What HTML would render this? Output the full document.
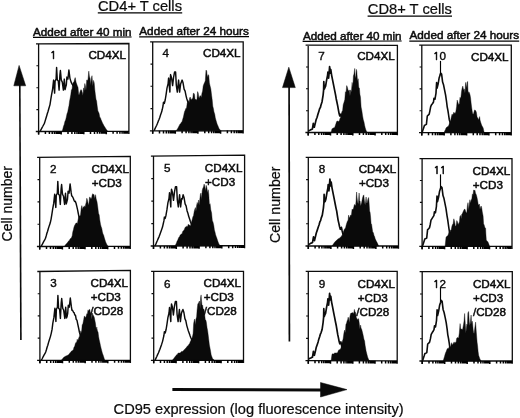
<!DOCTYPE html>
<html><head><meta charset="utf-8"><title>CD95 expression</title>
<style>html,body{margin:0;padding:0;background:#fff}svg{display:block}</style>
</head><body>
<svg width="520" height="418" viewBox="0 0 520 418">
<rect width="520" height="418" fill="#fff"/>
<g fill="none" stroke="#0c0c0c" stroke-width="1.3" stroke-linejoin="miter">
<path d="M36.0 43.8 L128.9 43.5 V133.9 M128.9 131.1 L35.8 131.5 M38.6 43.8 V134.5"/>
<path d="M36.4 65.7 H38.6M36.4 87.7 H38.6M36.4 109.6 H38.6" stroke-width="1.1"/>
<path d="M38.6 131.5 v3.0M45.4 131.5 v2.6M49.4 131.5 v2.6M52.2 131.4 v2.6M54.4 131.4 v2.6M56.2 131.4 v2.6M57.7 131.4 v2.6M59.0 131.4 v2.6M60.1 131.4 v2.6M61.2 131.4 v3.0M68.0 131.4 v2.6M71.9 131.4 v2.6M74.8 131.3 v2.6M77.0 131.3 v2.6M78.7 131.3 v2.6M80.3 131.3 v2.6M81.6 131.3 v2.6M82.7 131.3 v2.6M83.8 131.3 v3.0M90.5 131.3 v2.6M94.5 131.3 v2.6M97.3 131.2 v2.6M99.5 131.2 v2.6M101.3 131.2 v2.6M102.8 131.2 v2.6M104.1 131.2 v2.6M105.3 131.2 v2.6M106.3 131.2 v3.0M113.1 131.2 v2.6M117.1 131.2 v2.6M119.9 131.1 v2.6M122.1 131.1 v2.6M123.9 131.1 v2.6M125.4 131.1 v2.6M126.7 131.1 v2.6M127.9 131.1 v2.6" stroke-width="1.5" stroke="#000"/>
<path d="M37.1 157.3 L130.3 156.3 V249.0 M130.3 246.2 L36.9 246.5 M39.7 157.3 V249.5"/>
<path d="M37.5 179.6 H39.7M37.5 201.9 H39.7M37.5 224.2 H39.7" stroke-width="1.1"/>
<path d="M39.7 246.5 v3.0M46.5 246.5 v2.6M50.5 246.5 v2.6M53.3 246.5 v2.6M55.5 246.4 v2.6M57.3 246.4 v2.6M58.8 246.4 v2.6M60.2 246.4 v2.6M61.3 246.4 v2.6M62.4 246.4 v3.0M69.2 246.4 v2.6M73.2 246.4 v2.6M76.0 246.4 v2.6M78.2 246.4 v2.6M80.0 246.4 v2.6M81.5 246.4 v2.6M82.8 246.4 v2.6M84.0 246.4 v2.6M85.0 246.3 v3.0M91.8 246.3 v2.6M95.8 246.3 v2.6M98.6 246.3 v2.6M100.8 246.3 v2.6M102.6 246.3 v2.6M104.1 246.3 v2.6M105.5 246.3 v2.6M106.6 246.3 v2.6M107.7 246.3 v3.0M114.5 246.3 v2.6M118.5 246.2 v2.6M121.3 246.2 v2.6M123.5 246.2 v2.6M125.3 246.2 v2.6M126.8 246.2 v2.6M128.1 246.2 v2.6M129.3 246.2 v2.6" stroke-width="1.5" stroke="#000"/>
<path d="M37.3 271.5 L130.4 270.3 V362.9 M130.4 360.1 L37.1 360.3 M39.9 271.5 V363.3"/>
<path d="M37.7 293.7 H39.9M37.7 315.9 H39.9M37.7 338.1 H39.9" stroke-width="1.1"/>
<path d="M39.9 360.3 v3.0M46.7 360.3 v2.6M50.7 360.3 v2.6M53.5 360.3 v2.6M55.7 360.3 v2.6M57.5 360.3 v2.6M59.0 360.3 v2.6M60.3 360.3 v2.6M61.5 360.3 v2.6M62.5 360.2 v3.0M69.3 360.2 v2.6M73.3 360.2 v2.6M76.1 360.2 v2.6M78.3 360.2 v2.6M80.1 360.2 v2.6M81.6 360.2 v2.6M83.0 360.2 v2.6M84.1 360.2 v2.6M85.2 360.2 v3.0M92.0 360.2 v2.6M95.9 360.2 v2.6M98.8 360.2 v2.6M101.0 360.2 v2.6M102.8 360.2 v2.6M104.3 360.2 v2.6M105.6 360.2 v2.6M106.7 360.2 v2.6M107.8 360.2 v3.0M114.6 360.1 v2.6M118.6 360.1 v2.6M121.4 360.1 v2.6M123.6 360.1 v2.6M125.4 360.1 v2.6M126.9 360.1 v2.6M128.2 360.1 v2.6M129.4 360.1 v2.6" stroke-width="1.5" stroke="#000"/>
<path d="M150.1 41.9 L243.2 41.9 V133.4 M243.2 130.6 L149.9 130.8 M152.7 41.9 V133.8"/>
<path d="M150.5 64.1 H152.7M150.5 86.3 H152.7M150.5 108.6 H152.7" stroke-width="1.1"/>
<path d="M152.7 130.8 v3.0M159.5 130.8 v2.6M163.5 130.8 v2.6M166.3 130.8 v2.6M168.5 130.8 v2.6M170.3 130.8 v2.6M171.8 130.8 v2.6M173.1 130.8 v2.6M174.3 130.8 v2.6M175.3 130.8 v3.0M182.1 130.7 v2.6M186.1 130.7 v2.6M188.9 130.7 v2.6M191.1 130.7 v2.6M192.9 130.7 v2.6M194.4 130.7 v2.6M195.8 130.7 v2.6M196.9 130.7 v2.6M197.9 130.7 v3.0M204.8 130.7 v2.6M208.7 130.7 v2.6M211.6 130.7 v2.6M213.8 130.7 v2.6M215.6 130.7 v2.6M217.1 130.7 v2.6M218.4 130.7 v2.6M219.5 130.7 v2.6M220.6 130.7 v3.0M227.4 130.6 v2.6M231.4 130.6 v2.6M234.2 130.6 v2.6M236.4 130.6 v2.6M238.2 130.6 v2.6M239.7 130.6 v2.6M241.0 130.6 v2.6M242.2 130.6 v2.6" stroke-width="1.5" stroke="#000"/>
<path d="M150.9 156.2 L244.6 155.1 V248.3 M244.6 245.5 L150.7 246.0 M153.5 156.2 V249.0"/>
<path d="M151.3 178.6 H153.5M151.3 201.1 H153.5M151.3 223.6 H153.5" stroke-width="1.1"/>
<path d="M153.5 246.0 v3.0M160.4 246.0 v2.6M164.4 245.9 v2.6M167.2 245.9 v2.6M169.4 245.9 v2.6M171.2 245.9 v2.6M172.7 245.9 v2.6M174.1 245.9 v2.6M175.2 245.9 v2.6M176.3 245.9 v3.0M183.1 245.8 v2.6M187.1 245.8 v2.6M190.0 245.8 v2.6M192.2 245.8 v2.6M194.0 245.8 v2.6M195.5 245.8 v2.6M196.8 245.8 v2.6M198.0 245.8 v2.6M199.1 245.8 v3.0M205.9 245.7 v2.6M209.9 245.7 v2.6M212.8 245.7 v2.6M215.0 245.7 v2.6M216.8 245.7 v2.6M218.3 245.6 v2.6M219.6 245.6 v2.6M220.8 245.6 v2.6M221.8 245.6 v3.0M228.7 245.6 v2.6M232.7 245.6 v2.6M235.5 245.5 v2.6M237.7 245.5 v2.6M239.5 245.5 v2.6M241.1 245.5 v2.6M242.4 245.5 v2.6M243.6 245.5 v2.6" stroke-width="1.5" stroke="#000"/>
<path d="M151.1 271.3 L243.5 271.3 V363.1 M243.5 360.3 L150.9 360.3 M153.7 271.3 V363.3"/>
<path d="M151.5 293.6 H153.7M151.5 315.8 H153.7M151.5 338.1 H153.7" stroke-width="1.1"/>
<path d="M153.7 360.3 v3.0M160.5 360.3 v2.6M164.4 360.3 v2.6M167.2 360.3 v2.6M169.4 360.3 v2.6M171.2 360.3 v2.6M172.7 360.3 v2.6M174.0 360.3 v2.6M175.1 360.3 v2.6M176.1 360.3 v3.0M182.9 360.3 v2.6M186.9 360.3 v2.6M189.7 360.3 v2.6M191.8 360.3 v2.6M193.6 360.3 v2.6M195.1 360.3 v2.6M196.4 360.3 v2.6M197.6 360.3 v2.6M198.6 360.3 v3.0M205.4 360.3 v2.6M209.3 360.3 v2.6M212.1 360.3 v2.6M214.3 360.3 v2.6M216.1 360.3 v2.6M217.6 360.3 v2.6M218.9 360.3 v2.6M220.0 360.3 v2.6M221.1 360.3 v3.0M227.8 360.3 v2.6M231.8 360.3 v2.6M234.6 360.3 v2.6M236.7 360.3 v2.6M238.5 360.3 v2.6M240.0 360.3 v2.6M241.3 360.3 v2.6M242.5 360.3 v2.6" stroke-width="1.5" stroke="#000"/>
<path d="M305.6 45.1 L397.4 45.3 V135.3 M397.4 132.5 L305.4 132.5 M308.2 45.1 V135.5"/>
<path d="M306.0 67.0 H308.2M306.0 88.8 H308.2M306.0 110.7 H308.2" stroke-width="1.1"/>
<path d="M308.2 132.5 v3.0M314.9 132.5 v2.6M318.8 132.5 v2.6M321.6 132.5 v2.6M323.8 132.5 v2.6M325.6 132.5 v2.6M327.0 132.5 v2.6M328.3 132.5 v2.6M329.5 132.5 v2.6M330.5 132.5 v3.0M337.2 132.5 v2.6M341.1 132.5 v2.6M343.9 132.5 v2.6M346.1 132.5 v2.6M347.9 132.5 v2.6M349.3 132.5 v2.6M350.6 132.5 v2.6M351.8 132.5 v2.6M352.8 132.5 v3.0M359.5 132.5 v2.6M363.4 132.5 v2.6M366.2 132.5 v2.6M368.4 132.5 v2.6M370.2 132.5 v2.6M371.6 132.5 v2.6M372.9 132.5 v2.6M374.1 132.5 v2.6M375.1 132.5 v3.0M381.8 132.5 v2.6M385.7 132.5 v2.6M388.5 132.5 v2.6M390.7 132.5 v2.6M392.5 132.5 v2.6M393.9 132.5 v2.6M395.2 132.5 v2.6M396.4 132.5 v2.6" stroke-width="1.5" stroke="#000"/>
<path d="M305.7 157.4 L398.5 157.4 V248.8 M398.5 246.0 L305.5 246.0 M308.3 157.4 V249.0"/>
<path d="M306.1 179.6 H308.3M306.1 201.7 H308.3M306.1 223.8 H308.3" stroke-width="1.1"/>
<path d="M308.3 246.0 v3.0M315.1 246.0 v2.6M319.1 246.0 v2.6M321.9 246.0 v2.6M324.1 246.0 v2.6M325.8 246.0 v2.6M327.4 246.0 v2.6M328.7 246.0 v2.6M329.8 246.0 v2.6M330.9 246.0 v3.0M337.6 246.0 v2.6M341.6 246.0 v2.6M344.4 246.0 v2.6M346.6 246.0 v2.6M348.4 246.0 v2.6M349.9 246.0 v2.6M351.2 246.0 v2.6M352.4 246.0 v2.6M353.4 246.0 v3.0M360.2 246.0 v2.6M364.2 246.0 v2.6M367.0 246.0 v2.6M369.2 246.0 v2.6M370.9 246.0 v2.6M372.5 246.0 v2.6M373.8 246.0 v2.6M374.9 246.0 v2.6M375.9 246.0 v3.0M382.7 246.0 v2.6M386.7 246.0 v2.6M389.5 246.0 v2.6M391.7 246.0 v2.6M393.5 246.0 v2.6M395.0 246.0 v2.6M396.3 246.0 v2.6M397.5 246.0 v2.6" stroke-width="1.5" stroke="#000"/>
<path d="M305.7 271.4 L397.2 271.4 V363.7 M397.2 360.9 L305.5 360.7 M308.3 271.4 V363.7"/>
<path d="M306.1 293.7 H308.3M306.1 316.0 H308.3M306.1 338.4 H308.3" stroke-width="1.1"/>
<path d="M308.3 360.7 v3.0M315.0 360.7 v2.6M318.9 360.7 v2.6M321.7 360.7 v2.6M323.8 360.7 v2.6M325.6 360.7 v2.6M327.1 360.7 v2.6M328.4 360.7 v2.6M329.5 360.7 v2.6M330.5 360.8 v3.0M337.2 360.8 v2.6M341.1 360.8 v2.6M343.9 360.8 v2.6M346.1 360.8 v2.6M347.8 360.8 v2.6M349.3 360.8 v2.6M350.6 360.8 v2.6M351.7 360.8 v2.6M352.8 360.8 v3.0M359.4 360.8 v2.6M363.4 360.8 v2.6M366.1 360.8 v2.6M368.3 360.8 v2.6M370.0 360.8 v2.6M371.5 360.8 v2.6M372.8 360.8 v2.6M374.0 360.8 v2.6M375.0 360.8 v3.0M381.7 360.9 v2.6M385.6 360.9 v2.6M388.4 360.9 v2.6M390.5 360.9 v2.6M392.3 360.9 v2.6M393.8 360.9 v2.6M395.0 360.9 v2.6M396.2 360.9 v2.6" stroke-width="1.5" stroke="#000"/>
<path d="M419.2 45.2 L511.3 45.2 V135.4 M511.3 132.6 L419.0 132.6 M421.8 45.2 V135.6"/>
<path d="M419.6 67.0 H421.8M419.6 88.9 H421.8M419.6 110.8 H421.8" stroke-width="1.1"/>
<path d="M421.8 132.6 v3.0M428.5 132.6 v2.6M432.5 132.6 v2.6M435.3 132.6 v2.6M437.4 132.6 v2.6M439.2 132.6 v2.6M440.7 132.6 v2.6M442.0 132.6 v2.6M443.2 132.6 v2.6M444.2 132.6 v3.0M450.9 132.6 v2.6M454.9 132.6 v2.6M457.6 132.6 v2.6M459.8 132.6 v2.6M461.6 132.6 v2.6M463.1 132.6 v2.6M464.4 132.6 v2.6M465.5 132.6 v2.6M466.6 132.6 v3.0M473.3 132.6 v2.6M477.2 132.6 v2.6M480.0 132.6 v2.6M482.2 132.6 v2.6M484.0 132.6 v2.6M485.5 132.6 v2.6M486.8 132.6 v2.6M487.9 132.6 v2.6M488.9 132.6 v3.0M495.7 132.6 v2.6M499.6 132.6 v2.6M502.4 132.6 v2.6M504.6 132.6 v2.6M506.3 132.6 v2.6M507.8 132.6 v2.6M509.1 132.6 v2.6M510.3 132.6 v2.6" stroke-width="1.5" stroke="#000"/>
<path d="M419.5 158.6 L512.0 158.6 V249.1 M512.0 246.3 L419.3 246.3 M422.1 158.6 V249.3"/>
<path d="M419.9 180.5 H422.1M419.9 202.4 H422.1M419.9 224.4 H422.1" stroke-width="1.1"/>
<path d="M422.1 246.3 v3.0M428.9 246.3 v2.6M432.8 246.3 v2.6M435.6 246.3 v2.6M437.8 246.3 v2.6M439.6 246.3 v2.6M441.1 246.3 v2.6M442.4 246.3 v2.6M443.5 246.3 v2.6M444.6 246.3 v3.0M451.3 246.3 v2.6M455.3 246.3 v2.6M458.1 246.3 v2.6M460.3 246.3 v2.6M462.1 246.3 v2.6M463.6 246.3 v2.6M464.9 246.3 v2.6M466.0 246.3 v2.6M467.1 246.3 v3.0M473.8 246.3 v2.6M477.8 246.3 v2.6M480.6 246.3 v2.6M482.8 246.3 v2.6M484.5 246.3 v2.6M486.0 246.3 v2.6M487.3 246.3 v2.6M488.5 246.3 v2.6M489.5 246.3 v3.0M496.3 246.3 v2.6M500.2 246.3 v2.6M503.1 246.3 v2.6M505.2 246.3 v2.6M507.0 246.3 v2.6M508.5 246.3 v2.6M509.8 246.3 v2.6M511.0 246.3 v2.6" stroke-width="1.5" stroke="#000"/>
<path d="M419.6 271.7 L512.3 271.7 V363.8 M512.3 361.0 L419.4 361.0 M422.2 271.7 V364.0"/>
<path d="M420.0 294.0 H422.2M420.0 316.4 H422.2M420.0 338.7 H422.2" stroke-width="1.1"/>
<path d="M422.2 361.0 v3.0M429.0 361.0 v2.6M432.9 361.0 v2.6M435.8 361.0 v2.6M437.9 361.0 v2.6M439.7 361.0 v2.6M441.2 361.0 v2.6M442.5 361.0 v2.6M443.7 361.0 v2.6M444.7 361.0 v3.0M451.5 361.0 v2.6M455.5 361.0 v2.6M458.3 361.0 v2.6M460.5 361.0 v2.6M462.3 361.0 v2.6M463.8 361.0 v2.6M465.1 361.0 v2.6M466.2 361.0 v2.6M467.2 361.0 v3.0M474.0 361.0 v2.6M478.0 361.0 v2.6M480.8 361.0 v2.6M483.0 361.0 v2.6M484.8 361.0 v2.6M486.3 361.0 v2.6M487.6 361.0 v2.6M488.7 361.0 v2.6M489.8 361.0 v3.0M496.6 361.0 v2.6M500.5 361.0 v2.6M503.3 361.0 v2.6M505.5 361.0 v2.6M507.3 361.0 v2.6M508.8 361.0 v2.6M510.1 361.0 v2.6M511.3 361.0 v2.6" stroke-width="1.5" stroke="#000"/>
</g>
<g stroke="#0c0c0c" stroke-width="1.25" stroke-linejoin="round" fill="none">
<polyline stroke-width="1.45" points="40.1,131.3 41.0,129.7 41.8,128.1 42.7,126.5 43.5,125.0 44.4,123.3 45.1,121.1 45.8,118.7 46.5,116.6 47.2,114.0 48.1,111.2 49.0,108.0 50.0,104.6 50.8,99.4 51.5,95.1 52.6,89.1 53.6,80.1 54.6,93.1 55.1,81.1 56.1,79.1 56.6,67.5 57.3,80.1 58.3,81.1 59.1,90.1 59.9,75.1 60.4,70.5 61.3,80.1 62.3,82.1 63.4,90.1 64.3,79.1 65.1,89.6 65.7,87.1 66.3,85.1 66.9,77.1 67.9,79.1 68.9,70.0 69.9,78.1 71.1,82.1 72.1,84.1 73.1,85.6 74.1,87.1 74.8,89.4 75.6,92.1 76.3,95.7 77.1,99.1 78.1,104.0 78.8,106.6 79.5,108.0 80.5,110.3 81.5,112.0 82.2,113.9 83.0,116.0"/>
<polyline stroke-width="1.45" points="41.2,246.3 42.1,244.7 42.9,243.1 43.8,241.4 44.7,239.9 45.5,238.2 46.2,235.9 46.9,233.3 47.6,231.3 48.3,228.7 49.2,225.9 50.2,223.1 51.1,219.1 51.9,214.2 52.6,209.5 53.7,203.4 54.7,194.2 55.8,207.4 56.3,195.2 57.3,193.2 57.8,181.4 58.5,194.2 59.5,195.2 60.3,204.4 61.1,189.1 61.6,184.5 62.5,194.2 63.5,196.3 64.6,204.4 65.5,193.2 66.3,203.9 66.9,201.5 67.5,199.3 68.1,191.2 69.1,193.2 70.1,183.9 71.1,192.2 71.7,195.9 72.3,196.3 73.3,198.3 74.0,200.2 74.6,201.5 75.3,201.3 76.1,203.5 76.8,206.4 77.6,209.8 78.3,213.5 79.3,218.5 80.0,220.4 80.7,222.6 81.4,223.8 82.1,225.1 82.7,226.7 83.5,229.0 84.2,230.7"/>
<polyline stroke-width="1.45" points="41.4,360.1 42.3,358.5 43.1,356.8 44.0,355.2 44.9,353.7 45.7,352.0 46.4,349.8 47.1,347.3 47.8,345.2 48.5,342.6 49.4,339.7 50.4,336.6 51.3,333.1 52.1,329.2 52.8,323.4 53.9,317.4 54.9,308.3 55.9,321.4 56.4,309.3 57.4,307.2 57.9,295.5 58.6,308.3 59.6,309.3 60.4,318.4 61.2,303.2 61.7,298.5 62.7,308.3 63.7,310.3 64.8,318.4 65.7,307.2 66.5,317.9 67.1,316.4 67.7,313.3 68.3,305.2 69.3,307.2 70.3,298.0 71.3,306.2 71.9,310.2 72.5,310.3 73.5,312.3 74.1,312.6 74.8,315.1 75.5,315.3 76.2,319.3 77.0,320.4 77.7,323.9 78.5,327.5 79.5,332.5 80.2,334.7 80.9,336.5 81.6,338.2 82.2,339.1 82.9,340.6 83.6,342.8 84.4,344.6"/>
<polyline stroke-width="1.45" points="154.1,130.8 154.9,128.9 155.8,127.0 156.7,125.2 157.5,123.3 158.2,121.4 159.0,119.5 159.7,117.7 160.6,114.8 161.6,112.1 162.3,109.3 163.0,106.0 163.5,102.2 164.3,103.5 165.2,100.0 166.0,95.1 167.0,88.1 168.1,83.6 168.6,78.1 169.2,85.2 169.9,92.1 170.1,82.1 170.6,74.6 171.6,78.1 172.6,85.6 173.6,77.1 174.6,72.0 175.6,72.0 176.3,85.1 177.3,92.1 177.9,86.4 178.6,80.1 179.6,92.1 180.6,84.1 181.3,82.2 182.1,80.1 183.1,83.1 184.1,89.1 185.1,91.1 186.1,96.1 186.8,98.8 187.6,101.2 188.6,104.0 189.3,106.3 190.0,108.0 190.8,110.5 191.5,112.0 192.2,114.0 193.0,116.0"/>
<polyline stroke-width="1.45" points="154.9,246.0 155.8,244.1 156.6,242.2 157.5,240.3 158.3,238.4 159.1,236.6 159.8,234.7 160.5,232.8 161.5,230.0 162.5,227.1 163.2,224.0 163.9,220.9 164.4,217.1 165.2,218.4 166.0,215.2 166.9,209.9 167.9,202.9 169.0,198.3 169.5,192.8 170.2,200.1 170.8,206.9 171.0,196.8 171.5,189.2 172.5,192.8 173.5,200.3 174.5,191.8 175.5,186.6 176.6,186.6 177.3,199.8 178.3,206.9 178.9,200.9 179.6,194.8 180.6,206.9 181.6,198.8 182.3,198.9 183.1,194.8 184.1,197.8 185.1,203.9 186.1,205.9 187.1,210.9 187.9,213.2 188.6,216.1 189.6,218.9 190.3,221.2 191.0,223.0 191.8,225.4 192.6,227.0 193.3,229.4 194.1,231.1"/>
<polyline stroke-width="1.45" points="155.1,360.3 155.9,358.4 156.8,356.5 157.6,354.6 158.5,352.8 159.2,350.9 159.9,349.2 160.6,347.2 161.6,344.4 162.5,341.6 163.2,338.7 163.9,335.5 164.4,331.7 165.2,333.0 166.1,329.5 166.9,324.6 167.9,317.6 169.0,313.0 169.5,307.5 170.1,314.2 170.8,321.6 171.0,311.5 171.5,304.0 172.5,307.5 173.4,315.0 174.4,306.5 175.4,301.4 176.4,301.4 177.1,314.5 178.1,321.6 178.8,314.8 179.4,309.5 180.4,321.6 181.4,313.5 182.1,311.2 182.9,309.5 183.9,312.5 184.9,318.6 185.8,320.6 186.8,325.6 187.6,328.4 188.3,330.7 189.3,333.5 190.0,335.6 190.7,337.5 191.5,339.2 192.2,341.5 192.9,343.4 193.7,345.5"/>
<polyline stroke-width="1.70" points="308.2,131.0 309.0,130.6 309.9,130.2 310.7,129.8 311.6,129.4 312.4,129.0 313.3,123.4 314.3,127.2 315.2,123.6 316.1,119.7 317.1,117.2 318.0,114.1 318.9,111.2 319.7,108.5 320.4,107.5 321.0,105.0 322.0,102.0 323.1,95.1 323.6,90.1 323.8,81.6 324.3,89.1 325.0,87.5 325.6,86.1 326.6,80.1 327.6,75.1 327.9,72.0 328.6,78.1 329.1,73.1 329.6,66.5 330.4,73.1 330.8,69.5 331.6,75.1 332.6,80.1 333.6,85.1 334.6,90.1 335.6,95.1 336.2,98.7 336.9,102.0 337.7,105.9 338.5,110.4 339.1,113.6 339.8,116.0 340.9,114.1 341.5,116.8 342.2,119.7 342.9,122.0 343.5,124.0 344.2,126.0 345.0,128.0"/>
<polyline stroke-width="1.70" points="308.3,244.5 309.1,244.1 310.0,243.7 310.8,243.3 311.7,242.9 312.5,242.5 313.5,236.8 314.5,240.6 315.4,236.9 316.3,233.0 317.2,230.4 318.2,227.3 319.1,224.8 319.9,221.7 320.6,220.6 321.2,218.1 322.3,215.1 323.4,208.1 323.9,203.0 324.1,194.4 324.6,202.0 325.2,201.3 325.9,199.0 326.9,192.9 327.9,187.8 328.2,184.7 328.9,190.9 329.4,185.8 329.9,179.1 330.7,185.8 331.2,182.1 332.0,187.8 333.0,192.9 334.0,197.9 335.0,203.0 336.0,208.1 336.7,211.1 337.3,215.1 338.1,220.1 338.9,223.6 339.6,226.7 340.3,229.3 341.4,227.3 342.0,230.2 342.7,233.0 343.3,235.2 344.0,237.4 344.8,239.5 345.5,241.4"/>
<polyline stroke-width="1.70" points="308.3,359.2 309.1,358.8 310.0,358.3 310.8,358.0 311.6,357.5 312.5,357.1 313.4,351.4 314.4,355.3 315.3,351.6 316.2,347.6 317.1,344.9 318.1,341.9 318.9,338.9 319.8,336.2 320.4,334.1 321.1,332.6 322.1,329.5 323.1,322.5 323.6,317.4 323.8,308.7 324.3,316.4 325.0,314.5 325.6,313.3 326.6,307.2 327.6,302.1 327.9,298.9 328.6,305.1 329.1,300.0 329.6,293.3 330.4,300.0 330.8,296.3 331.6,302.1 332.6,307.2 333.6,312.3 334.6,317.4 335.6,322.5 336.3,325.8 336.9,329.5 337.7,334.4 338.5,338.1 339.1,341.3 339.8,343.8 340.9,341.9 341.5,345.1 342.2,347.6 342.8,349.7 343.5,352.0 344.2,354.0 345.0,356.1"/>
<polyline stroke-width="1.60" points="422.1,132.6 422.9,130.1 423.7,127.7 424.5,125.3 425.4,124.9 426.4,124.4 427.3,116.0 428.2,115.2 429.2,114.1 429.9,110.8 430.7,106.6 431.6,104.7 432.6,103.5 433.5,102.0 434.0,98.2 435.0,99.2 436.0,93.1 436.6,82.6 437.1,88.1 438.1,84.1 439.1,78.1 440.1,75.1 440.6,73.1 441.6,74.1 442.1,78.1 442.6,82.1 443.6,85.1 444.6,90.1 445.6,95.1 446.6,102.0 447.2,106.8 447.9,110.4 448.6,115.0 449.3,119.7 450.0,122.0 450.6,124.4 451.6,126.2 452.3,127.7 453.0,129.0"/>
<path stroke-width="1.15" stroke="#000" d="M440.50 74.6 V60.9"/>
<polyline stroke-width="1.60" points="422.4,246.3 423.2,243.9 424.0,241.4 424.8,239.0 425.8,238.6 426.7,238.1 427.6,229.6 428.6,228.8 429.5,227.7 430.3,224.2 431.0,220.2 432.0,218.6 432.9,217.1 433.9,215.6 434.4,211.8 435.4,212.8 436.4,206.7 437.0,196.1 437.5,201.6 438.5,197.6 439.5,191.6 440.5,188.6 441.0,186.6 442.0,187.6 442.5,191.6 443.0,195.6 444.0,198.6 445.0,203.7 446.0,208.7 447.0,215.6 447.7,219.7 448.3,224.0 449.0,228.8 449.7,233.4 450.4,235.7 451.0,238.1 452.0,239.9 452.7,241.4 453.4,242.7"/>
<path stroke-width="1.15" stroke="#000" d="M440.50 188.1 V174.4"/>
<polyline stroke-width="1.60" points="422.5,361.0 423.3,358.5 424.1,356.1 424.9,353.5 425.9,353.2 426.8,352.6 427.7,344.0 428.7,343.1 429.6,342.1 430.4,338.9 431.2,334.4 432.1,332.8 433.1,331.3 434.0,329.7 434.5,325.9 435.5,326.9 436.5,320.6 437.1,309.9 437.6,315.5 438.6,311.4 439.6,305.3 440.6,302.2 441.1,300.2 442.1,301.2 442.6,305.3 443.1,309.4 444.1,312.5 445.2,317.6 446.2,322.7 447.2,329.7 447.8,334.8 448.5,338.3 449.2,342.9 449.9,347.8 450.5,350.2 451.2,352.6 452.2,354.5 452.9,355.9 453.6,357.3"/>
<path stroke-width="1.15" stroke="#000" d="M440.50 301.7 V287.7"/>
</g>
<g fill="#0a0a0a" stroke="#0a0a0a" stroke-width="0.4">
<polygon points="62.1,131.5 62.8,129.1 63.5,126.3 64.2,124.5 64.9,121.4 65.6,120.1 66.3,117.2 67.0,113.7 67.7,112.1 68.3,108.7 69.0,105.4 69.6,100.9 70.2,97.9 70.8,94.6 71.4,89.7 72.0,89.4 72.7,83.8 73.3,82.3 73.9,82.3 74.6,79.3 75.2,77.6 76.1,82.3 76.8,84.3 77.4,86.0 78.0,87.2 78.7,94.4 79.3,94.4 80.0,91.8 80.8,89.7 81.5,89.9 82.3,92.5 82.9,95.5 83.6,87.9 84.2,90.8 84.8,83.5 85.4,86.0 86.0,90.6 86.7,80.0 87.3,80.4 88.0,79.3 88.8,71.1 89.4,76.2 90.1,78.5 90.7,84.7 91.4,78.3 92.0,75.7 92.8,86.0 93.5,80.4 94.2,82.8 94.8,89.7 95.4,94.8 96.0,99.3 96.6,100.9 97.2,106.1 97.9,110.9 98.5,112.1 99.1,113.5 99.8,117.3 100.4,117.7 101.1,119.7 101.8,121.3 102.5,123.0 103.2,124.2 103.9,125.6 104.6,126.7 105.3,127.8 106.0,128.9 106.6,129.8 107.2,130.6 107.8,131.5"/>
<polygon points="64.1,246.5 64.7,245.7 65.4,245.0 66.0,244.2 66.6,243.6 67.3,242.7 67.9,242.0 68.5,241.1 69.1,240.8 69.8,239.5 70.4,238.6 71.0,238.5 71.6,237.3 72.2,235.7 72.8,231.8 73.4,229.8 74.0,227.1 74.7,225.3 75.3,224.2 76.0,223.1 76.7,223.0 77.4,223.5 78.1,219.6 78.7,217.4 79.3,216.1 79.9,216.1 80.5,214.9 81.2,208.4 81.8,205.6 82.4,209.8 83.1,206.7 83.7,207.5 84.3,205.8 85.0,207.4 85.6,204.6 86.2,202.4 86.8,198.2 87.4,200.0 88.1,203.0 88.8,205.3 89.5,196.9 90.2,199.0 90.8,197.5 91.5,198.9 92.1,195.3 92.7,193.7 93.4,194.6 94.0,194.4 94.7,198.5 95.5,194.7 96.2,199.0 97.0,201.8 97.7,206.5 98.5,213.2 99.2,214.9 99.8,220.0 100.5,224.2 101.1,226.5 101.8,228.4 102.4,231.7 103.0,234.1 103.6,235.0 104.2,237.3 104.8,239.3 105.5,241.4 106.1,242.9 106.7,244.2 107.4,245.3 108.0,246.5"/>
<polygon points="61.3,360.3 62.0,359.4 62.7,358.6 63.4,357.7 64.1,356.9 64.7,356.8 65.4,356.3 66.0,356.1 66.6,355.7 67.3,355.5 67.9,355.0 68.6,354.7 69.2,354.0 69.9,352.9 70.6,352.2 71.3,351.3 72.0,350.7 72.7,350.5 73.4,349.4 74.0,347.2 74.7,346.3 75.3,343.8 75.9,342.4 76.6,342.6 77.2,339.2 77.9,340.8 78.7,338.1 79.4,336.4 80.2,334.3 80.9,330.8 81.5,333.0 82.2,324.6 82.8,324.2 83.7,319.6 84.3,316.2 85.0,316.6 85.6,317.7 86.2,316.3 86.8,313.7 87.4,314.0 88.0,309.9 88.7,311.3 89.3,309.3 89.9,309.7 90.6,314.3 91.2,312.1 91.8,319.4 92.4,313.0 93.0,314.9 93.6,315.8 94.3,317.4 94.9,320.5 95.5,323.6 96.2,329.8 96.8,327.0 97.4,331.1 98.0,331.7 98.6,336.4 99.2,339.8 99.9,342.8 100.5,345.7 101.1,348.3 101.8,350.9 102.4,353.2 103.0,354.8 103.6,356.6 104.2,358.4 104.8,360.3"/>
<polygon points="176.1,130.8 176.7,129.9 177.4,129.0 178.0,128.0 178.6,126.8 179.3,125.4 179.9,124.2 180.6,123.7 181.4,122.3 182.1,121.4 182.7,119.2 183.4,117.1 184.0,114.0 184.6,111.4 185.2,110.2 185.8,108.4 186.5,108.3 187.2,103.3 187.9,101.8 188.5,100.6 189.0,103.2 189.6,98.1 190.2,97.1 190.8,98.9 191.4,100.0 192.0,98.5 192.7,99.0 193.3,93.4 193.9,93.2 194.5,94.6 195.1,100.1 195.7,99.0 196.3,100.2 197.0,98.9 197.6,91.6 198.2,93.1 198.8,97.2 199.4,98.1 200.0,95.5 200.7,96.1 201.3,97.6 201.9,93.4 202.6,91.1 203.2,86.0 203.9,84.1 204.7,82.3 205.3,80.7 206.0,70.1 206.7,70.9 207.3,77.6 208.1,74.6 208.8,75.7 209.4,82.9 210.1,86.0 210.8,88.8 211.6,95.3 212.2,99.8 212.8,106.2 213.4,108.4 214.0,112.0 214.7,113.9 215.3,117.7 215.9,119.9 216.6,122.3 217.2,124.2 217.8,125.6 218.4,127.0 219.0,128.5 219.6,129.3 220.3,130.0 220.9,130.8"/>
<polygon points="175.2,246.0 175.8,244.3 176.5,242.9 177.1,241.0 177.7,240.2 178.3,238.6 178.9,237.3 179.5,236.7 180.2,235.0 180.8,234.5 181.4,234.0 182.0,233.9 182.6,231.7 183.2,230.8 183.9,230.5 184.5,228.9 185.1,227.6 185.8,226.8 186.4,227.0 187.0,225.8 187.6,227.3 188.2,224.2 188.8,224.8 189.5,225.1 190.1,226.1 190.8,225.1 191.4,222.4 192.2,219.6 192.9,216.8 193.5,215.8 194.2,211.5 194.8,209.3 195.4,207.6 196.0,211.5 196.6,205.6 197.2,202.5 197.9,205.1 198.5,200.0 199.1,205.3 199.8,199.3 200.4,194.4 201.0,193.0 201.6,199.7 202.2,190.7 202.8,188.3 203.5,187.0 204.1,184.1 204.8,186.2 205.6,190.7 206.2,185.3 206.9,187.9 207.5,192.8 208.2,189.7 208.8,194.4 209.4,204.5 210.1,203.7 210.8,209.8 211.6,213.0 212.3,220.4 213.1,222.4 213.8,225.6 214.4,229.9 215.0,232.1 215.6,234.7 216.2,236.4 216.8,238.0 217.5,240.2 218.1,242.0 218.7,243.4 219.4,244.7 220.0,246.0"/>
<polygon points="172.4,360.3 173.1,359.3 173.8,358.4 174.5,357.4 175.2,356.5 175.9,355.8 176.6,354.8 177.3,354.4 178.0,353.2 178.7,353.0 179.4,353.0 180.1,353.1 180.8,352.2 181.5,351.4 182.2,351.4 182.9,351.3 183.6,350.4 184.3,349.5 185.0,349.4 185.7,348.0 186.4,347.6 187.0,346.4 187.6,346.1 188.2,345.5 188.8,344.5 189.5,343.8 190.1,342.2 190.6,341.1 191.2,340.0 191.9,338.6 192.6,336.0 193.1,333.5 193.6,324.1 194.1,320.8 194.6,319.1 195.3,324.7 195.9,319.3 196.6,317.1 197.1,310.1 197.8,303.9 198.6,303.0 199.1,301.5 199.6,301.0 200.1,308.7 200.6,297.5 201.1,294.9 201.6,301.5 202.1,306.3 202.6,305.0 203.1,308.8 203.6,309.1 204.1,309.6 204.6,314.1 205.3,320.1 205.8,320.1 206.3,322.0 207.1,328.1 207.6,330.4 208.1,334.2 208.8,340.0 209.4,345.1 209.9,347.6 210.6,351.3 211.2,355.0 211.8,356.6 212.5,358.4 213.1,359.1 213.8,359.7 214.4,360.3"/>
<polygon points="331.1,132.5 332.0,128.7 332.7,128.5 333.4,127.9 334.1,127.7 334.8,127.2 335.4,125.3 336.0,123.6 336.6,121.6 337.3,121.1 338.0,121.2 338.7,121.4 339.4,120.6 340.0,118.4 340.7,117.4 341.3,114.1 341.9,111.7 342.6,110.6 343.2,104.8 344.1,102.0 344.8,99.6 345.4,91.7 346.0,92.8 346.7,85.6 347.3,87.0 348.1,90.2 348.8,90.8 349.4,89.9 350.0,95.9 350.6,89.9 351.4,92.1 352.1,82.4 352.8,87.2 353.4,75.9 354.0,74.0 354.7,68.4 355.2,78.3 355.8,75.9 356.3,69.3 356.8,71.2 357.5,81.4 358.1,78.7 358.8,87.4 359.4,88.0 359.9,94.3 360.5,97.3 361.1,107.1 361.8,110.4 362.6,115.9 363.3,119.7 364.0,122.1 364.6,125.3 365.2,127.7 365.9,130.0 366.5,131.2 367.1,132.5"/>
<polygon points="332.0,246.0 332.7,245.0 333.4,244.0 334.1,242.9 334.8,242.0 335.5,241.3 336.2,240.6 336.9,240.3 337.6,239.2 338.3,238.7 339.0,238.5 339.7,238.0 340.4,237.3 341.0,236.9 341.6,235.7 342.2,235.4 342.8,234.2 343.5,231.6 344.1,229.8 344.8,228.8 345.5,228.0 346.2,225.1 346.8,223.0 347.5,221.1 348.1,220.2 348.6,215.1 349.3,217.9 349.9,217.0 350.6,215.1 351.4,215.2 352.1,209.1 352.9,210.0 353.6,208.1 354.4,204.5 355.1,205.1 355.6,206.1 356.1,200.5 356.6,192.0 357.1,198.0 357.6,202.1 358.3,204.1 359.1,193.0 359.6,200.9 360.1,201.1 360.6,206.0 361.1,204.6 361.7,202.2 362.3,199.1 362.8,197.0 363.3,195.5 363.8,194.9 364.3,200.1 365.1,205.1 365.6,201.5 366.1,197.0 366.6,203.1 367.1,203.1 367.6,200.4 368.1,198.6 368.6,197.5 369.1,203.1 369.6,211.1 370.1,212.5 370.6,217.1 371.1,223.8 371.6,224.2 372.1,228.0 372.7,232.0 373.4,232.8 374.0,235.4 374.6,236.6 375.2,238.8 375.8,240.1 376.4,241.3 377.1,242.5 377.7,243.8 378.6,246.0"/>
<polygon points="331.1,360.7 332.0,354.2 332.7,353.8 333.4,354.1 334.1,353.4 334.8,352.9 335.5,353.0 336.2,352.8 336.9,353.2 337.6,352.4 338.4,350.6 339.1,349.5 339.7,349.9 340.4,349.1 341.0,348.0 341.5,345.2 342.0,343.0 342.6,340.5 343.1,339.1 343.9,333.2 344.6,330.1 345.3,332.8 345.9,324.5 346.6,323.1 347.1,320.8 347.6,320.1 348.1,317.2 348.6,318.0 349.3,322.6 349.9,316.5 350.6,313.5 351.4,313.1 352.1,313.0 352.9,312.5 353.6,314.0 354.4,309.4 355.1,312.5 355.6,312.3 356.1,317.0 356.6,318.0 357.1,319.0 357.6,319.9 358.1,318.6 358.6,319.0 359.1,322.1 359.9,329.0 360.6,325.1 361.1,328.3 361.6,329.1 362.4,332.1 363.1,335.1 363.9,339.1 364.6,341.1 365.1,345.2 365.6,348.0 366.1,351.1 366.6,353.0 367.1,355.0 367.6,357.0 368.1,358.2 368.6,359.5 369.1,360.1 369.6,360.7"/>
<polygon points="444.1,132.6 444.7,131.1 445.4,129.7 446.0,128.1 446.7,127.3 447.4,126.8 448.1,126.4 448.8,125.3 449.4,123.6 450.0,122.0 450.6,120.6 451.4,116.8 452.1,114.1 452.7,115.4 453.2,114.0 453.8,112.2 454.6,113.2 455.3,113.2 455.9,111.2 456.6,106.6 457.2,100.1 457.9,102.2 458.7,104.8 459.4,103.8 460.0,97.3 460.8,98.4 461.5,91.7 462.1,88.3 462.8,86.1 463.6,89.9 464.3,88.9 465.0,93.2 465.6,82.4 466.5,88.0 467.1,82.0 467.6,81.5 468.1,93.6 468.7,91.7 469.3,92.5 470.0,94.8 470.6,98.0 471.1,103.0 471.6,107.1 472.1,110.5 472.6,113.6 473.4,114.3 474.1,111.6 474.6,109.9 475.1,110.1 475.7,110.8 476.3,112.1 477.1,117.1 477.9,118.3 478.6,120.1 479.1,118.0 479.6,116.6 480.1,120.2 480.6,122.1 481.1,123.5 481.6,125.1 482.4,126.6 483.2,128.1 483.7,130.4 484.2,132.6"/>
<polygon points="445.1,246.3 446.0,237.4 446.6,236.5 447.3,236.1 447.9,235.6 448.6,233.5 449.3,231.8 449.9,232.6 450.6,230.1 451.2,230.0 451.9,226.3 452.5,224.4 453.1,224.1 453.8,218.8 454.6,221.4 455.3,226.2 456.1,225.4 456.8,220.6 457.5,222.1 458.1,224.4 458.7,223.5 459.4,222.0 460.0,216.0 460.6,215.5 461.2,218.8 461.8,214.1 462.4,213.5 463.1,211.8 463.7,210.4 464.3,209.3 465.0,209.3 465.6,211.3 466.2,212.7 466.8,212.4 467.4,205.7 468.0,202.6 468.7,210.3 469.3,203.9 469.9,199.7 470.6,202.9 471.2,200.1 471.8,198.9 472.4,193.9 473.0,195.5 473.6,190.1 474.3,190.5 474.9,189.9 475.5,193.2 476.2,194.5 476.9,197.0 477.7,201.0 478.3,205.1 478.8,204.8 479.4,204.0 480.0,209.4 480.5,207.4 481.1,206.0 481.7,207.8 482.3,212.0 483.1,216.0 483.6,224.1 484.1,224.7 484.6,226.6 485.1,228.2 485.6,228.1 485.9,234.1 486.3,240.1 487.1,241.2 487.9,241.7 488.4,243.1 488.9,244.2 489.5,246.3"/>
<polygon points="443.2,361.0 443.8,358.8 444.5,356.5 445.1,354.2 445.7,352.6 446.3,351.3 446.9,349.6 447.5,348.4 448.2,348.8 448.8,347.5 449.5,348.1 450.1,347.2 450.8,346.0 451.5,342.7 452.2,344.4 452.8,344.5 453.5,342.9 454.2,341.9 454.8,343.6 455.5,342.2 456.1,342.3 456.6,338.6 457.3,337.5 457.9,337.8 458.6,338.1 459.3,333.1 460.1,323.6 460.6,328.5 461.1,329.1 461.9,329.2 462.6,329.6 463.1,326.8 463.6,324.1 464.1,320.7 464.6,313.5 465.3,324.1 465.9,333.1 466.4,327.5 466.9,324.1 467.4,325.1 467.9,313.0 468.6,311.5 469.3,322.1 469.8,325.5 470.3,323.1 471.1,315.0 471.6,323.7 472.1,321.1 472.6,323.5 473.1,329.1 473.6,332.7 474.1,333.6 474.9,327.1 475.6,322.1 476.3,332.1 477.1,342.2 477.6,346.0 478.1,351.4 478.6,355.2 479.2,357.0 479.9,358.9 480.5,360.0 481.1,361.0"/>
</g>
<g font-family="'Liberation Sans', Arial, sans-serif" fill="#0c0c0c" stroke="#0c0c0c" stroke-width="0.5">
<text stroke-width="0.22" x="98" y="10.6" font-size="14.60" textLength="84" lengthAdjust="spacingAndGlyphs">CD4+ T cells</text>
<text stroke-width="0.22" x="367.8" y="14.2" font-size="14.60" textLength="84" lengthAdjust="spacingAndGlyphs">CD8+ T cells</text>
<text x="33" y="35.8" font-size="11.66" textLength="98.5" lengthAdjust="spacingAndGlyphs">Added after 40 min</text>
<text x="139.3" y="35.0" font-size="11.66" textLength="109.5" lengthAdjust="spacingAndGlyphs">Added after 24 hours</text>
<text x="303" y="40.0" font-size="11.66" textLength="98.6" lengthAdjust="spacingAndGlyphs">Added after 40 min</text>
<text x="409.5" y="39.4" font-size="11.66" textLength="109.6" lengthAdjust="spacingAndGlyphs">Added after 24 hours</text>
<text x="53.1" y="59.0" font-size="11.66" text-anchor="middle" stroke-width="0.4"><tspan font-family="'NanumGothic', 'Liberation Sans', sans-serif" font-size="10.49" stroke-width="0.65">1</tspan></text>
<text x="53.2" y="172.8" font-size="11.66" text-anchor="middle" stroke-width="0.4">2</text>
<text x="53.5" y="286.8" font-size="11.66" text-anchor="middle" stroke-width="0.4">3</text>
<text x="165.7" y="57.3" font-size="11.66" text-anchor="middle" stroke-width="0.4">4</text>
<text x="167.2" y="171.5" font-size="11.66" text-anchor="middle" stroke-width="0.4">5</text>
<text x="167.2" y="287.6" font-size="11.66" text-anchor="middle" stroke-width="0.4">6</text>
<text x="321.6" y="60.0" font-size="11.66" text-anchor="middle" stroke-width="0.4">7</text>
<text x="321.9" y="173.2" font-size="11.66" text-anchor="middle" stroke-width="0.4">8</text>
<text x="321.9" y="288.1" font-size="11.66" text-anchor="middle" stroke-width="0.4">9</text>
<text x="439.5" y="60.4" font-size="11.66" text-anchor="middle" stroke-width="0.4"><tspan font-family="'NanumGothic', 'Liberation Sans', sans-serif" font-size="10.49" stroke-width="0.65">1</tspan>0</text>
<text x="439.8" y="174.2" font-size="11.66" text-anchor="middle" stroke-width="0.4"><tspan font-family="'NanumGothic', 'Liberation Sans', sans-serif" font-size="10.49" stroke-width="0.65">1</tspan><tspan font-family="'NanumGothic', 'Liberation Sans', sans-serif" font-size="10.49" stroke-width="0.65">1</tspan></text>
<text x="439.5" y="287.8" font-size="11.66" text-anchor="middle" stroke-width="0.4"><tspan font-family="'NanumGothic', 'Liberation Sans', sans-serif" font-size="10.49" stroke-width="0.65">1</tspan>2</text>
<text x="88.4" y="58.8" font-size="11.66">CD4XL</text>
<text x="203.0" y="57.3" font-size="11.66">CD4XL</text>
<text x="91.5" y="172.5" font-size="11.66">CD4XL</text>
<text x="91.7" y="186.6" font-size="11.66">+CD3</text>
<text x="90.5" y="286.6" font-size="11.66">CD4XL</text>
<text x="90.7" y="300.7" font-size="11.66">+CD3</text>
<text x="90.2" y="314.9" font-size="11.66">/CD28</text>
<text x="204.8" y="171.6" font-size="11.66">CD4XL</text>
<text x="205.0" y="185.7" font-size="11.66">+CD3</text>
<text x="203.5" y="286.7" font-size="11.66">CD4XL</text>
<text x="203.7" y="300.8" font-size="11.66">+CD3</text>
<text x="203.8" y="315.0" font-size="11.66">/CD28</text>
<text x="357.2" y="60.0" font-size="11.66">CD4XL</text>
<text x="358.7" y="173.2" font-size="11.66">CD4XL</text>
<text x="358.9" y="187.3" font-size="11.66">+CD3</text>
<text x="357.5" y="287.5" font-size="11.66">CD4XL</text>
<text x="357.7" y="301.6" font-size="11.66">+CD3</text>
<text x="356.3" y="315.8" font-size="11.66">/CD28</text>
<text x="471.0" y="60.6" font-size="11.66">CD4XL</text>
<text x="472.6" y="174.6" font-size="11.66">CD4XL</text>
<text x="472.8" y="188.7" font-size="11.66">+CD3</text>
<text x="472.9" y="287.6" font-size="11.66">CD4XL</text>
<text x="473.1" y="301.7" font-size="11.66">+CD3</text>
<text x="472.9" y="315.9" font-size="11.66">/CD28</text>
<text stroke-width="0.22" transform="translate(12.3,241.4) rotate(-90)" font-size="14.00" textLength="75.2" lengthAdjust="spacingAndGlyphs">Cell number</text>
<text stroke-width="0.22" transform="translate(280.2,243.1) rotate(-90)" font-size="14.00" textLength="76.5" lengthAdjust="spacingAndGlyphs">Cell number</text>
<text stroke-width="0.22" x="113.6" y="413.5" font-size="14.60" textLength="290" lengthAdjust="spacingAndGlyphs">CD95 expression (log fluorescence intensity)</text>
</g>
<g stroke="#000" stroke-width="1.25" fill="none">
<path d="M97.8 12.8 H182.2"/>
<path d="M367.6 16.0 H452"/>
<path d="M33 37.4 L131.6 37.0"/>
<path d="M139.2 36.9 L249 36.7"/>
<path d="M302.6 41.4 L401.7 41.0"/>
<path d="M409.3 41.0 L519.2 41.0"/>
</g>
<g fill="#0a0a0a" stroke="#0a0a0a">
<path d="M19.8 85 L20.9 340" stroke-width="1.6" fill="none"/>
<polygon points="19.1,65.4 25.7,85.8 13.8,85.8" stroke-width="0.5"/>
<path d="M289.1 87 L289.4 341.6" stroke-width="1.7" fill="none"/>
<polygon points="288.8,67.2 295.3,87.6 282.5,87.6" stroke-width="0.5"/>
<path d="M172.4 389.5 L321 390.0" stroke-width="3.0" fill="none"/>
<polygon points="347,389.6 320.5,382.5 320.5,397" stroke-width="0.5"/>
</g>
</svg>
</body></html>
